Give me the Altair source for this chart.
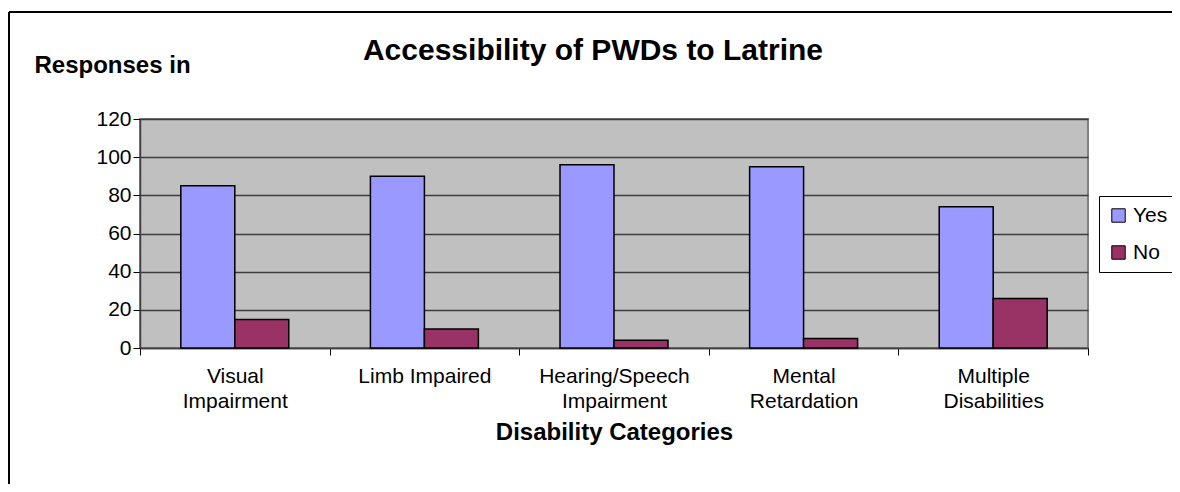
import altair as alt
import pandas as pd

categories = [
    "Visual Impairment",
    "Limb Impaired",
    "Hearing/Speech Impairment",
    "Mental Retardation",
    "Multiple Disabilities",
]
series = ["Yes", "No"]
yes_values = [85, 90, 96, 95, 74]
no_values = [15, 10, 4, 5, 26]
y_ticks = [0, 20, 40, 60, 80, 100, 120]

rows = []
for c, yv, nv in zip(categories, yes_values, no_values):
    rows.append({"category": c, "series": "Yes", "value": yv})
    rows.append({"category": c, "series": "No", "value": nv})
df = pd.DataFrame(rows)

FONT = "Liberation Sans"

bars = alt.Chart(df).mark_bar(stroke="black", strokeWidth=1.5).encode(
    x=alt.X(
        "category:N",
        sort=categories,
        scale=alt.Scale(paddingInner=0, paddingOuter=0),
        axis=alt.Axis(
            title="Disability Categories",
            labelAngle=0,
            tickBand="extent",
            grid=False,
            labelExpr="datum.label == 'Limb Impaired' ? datum.label : split(datum.label, ' ')",
            labelFontSize=21,
            labelLineHeight=25,
            labelPadding=10,
            labelColor="black",
            labelFont=FONT,
            tickSize=7,
            tickColor="black",
            domainColor="#404040",
            domainWidth=1.5,
            titleFontSize=24,
            titleFontWeight="bold",
            titleFont=FONT,
            titleColor="black",
            titlePadding=9,
        ),
    ),
    xOffset=alt.XOffset(
        "series:N",
        sort=series,
        scale=alt.Scale(paddingInner=0, paddingOuter=0.756),
    ),
    y=alt.Y(
        "value:Q",
        scale=alt.Scale(domain=[0, 120]),
        axis=alt.Axis(
            values=y_ticks,
            title="Responses in",
            titleAngle=0,
            titleX=-106,
            titleY=-47,
            titleAlign="left",
            titleBaseline="alphabetic",
            titleFontSize=24,
            titleFontWeight="bold",
            titleFont=FONT,
            titleColor="black",
            labelFontSize=21,
            labelFont=FONT,
            labelColor="black",
            labelPadding=2,
            tickSize=7,
            tickColor="black",
            domainColor="#404040",
            domainWidth=1.5,
            gridColor="#3c3c3c",
            gridWidth=1.5,
        ),
    ),
    color=alt.Color(
        "series:N",
        sort=series,
        scale=alt.Scale(domain=series, range=["#9999FF", "#993366"]),
        legend=alt.Legend(
            title=None,
            orient="none",
            legendX=959,
            legendY=77,
            symbolType="square",
            symbolSize=180,
            symbolStrokeColor="black",
            symbolStrokeWidth=1,
            labelFontSize=21,
            labelFont=FONT,
            labelColor="black",
            rowPadding=15,
            padding=9,
            strokeColor="black",
            fillColor="white",
        ),
    ),
)

border_top = alt.Chart(df).mark_rule(color="black", strokeWidth=2).encode(
    x=alt.value(-131), x2=alt.value(1060), y=alt.value(-107)
)
border_left = alt.Chart(df).mark_rule(color="black", strokeWidth=2).encode(
    x=alt.value(-131), y=alt.value(-107), y2=alt.value(373)
)

chart = (
    alt.layer(border_top, border_left, bars)
    .properties(
        width=948,
        height=229,
        autosize=alt.AutoSizeParams(type="none"),
        padding={"left": 132, "top": 111, "right": 84, "bottom": 136},
        title=alt.TitleParams(
            "Accessibility of PWDs to Latrine",
            fontSize=30,
            fontWeight="bold",
            font=FONT,
            color="black",
            anchor="middle",
            dx=-21,
            dy=59,
        ),
    )
    .configure(background="white")
    .configure_view(fill="#C0C0C0", stroke="#808080", strokeWidth=2)
)

chart.save("out.html", embed_options={"renderer": "svg", "actions": False})
